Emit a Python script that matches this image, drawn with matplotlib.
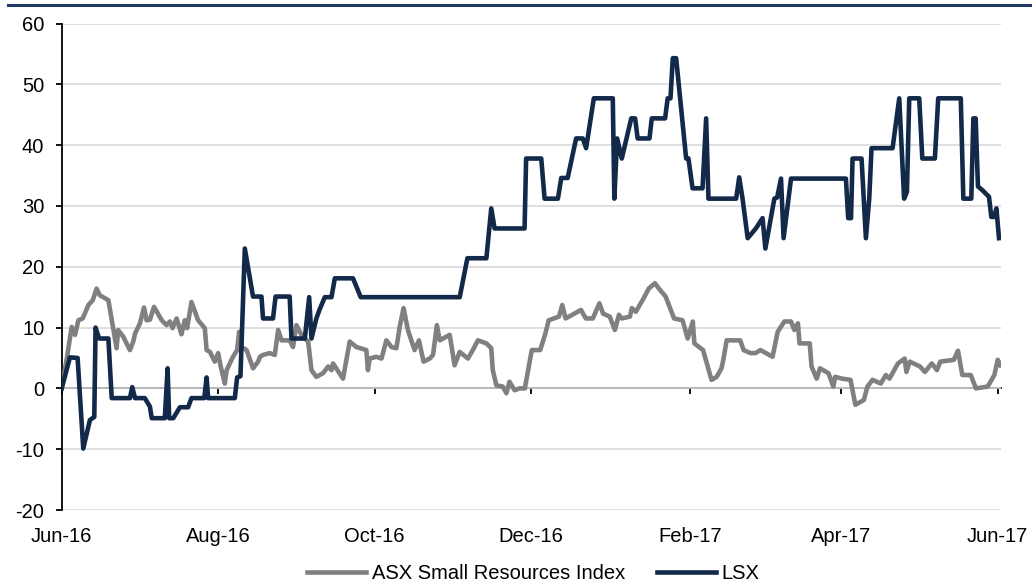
# Import required libraries
import matplotlib
matplotlib.use("Agg")
import matplotlib.pyplot as plt
import matplotlib.dates as mdates
from matplotlib.lines import Line2D
import pandas as pd

# -------------------------------
# 1. Data
# -------------------------------
# Days since 1 Jun 2016 and % performance
start = pd.Timestamp("2016-06-01")

asx_days = [0.0, 1.9, 3.9, 5.2, 6.5, 8.2, 10.4, 12.1, 13.6, 14.9, 18.2, 21.4, 22.0, 24.0,
            26.6, 27.9, 28.6, 30.5, 32.1, 33.1, 34.4, 36.0, 39.0, 40.9, 42.2, 43.2, 44.8,
            46.7, 48.0, 48.9, 50.6, 53.2, 55.8, 56.5, 57.8, 59.7, 61.0, 61.9, 63.6, 64.3,
            66.8, 68.4, 69.2, 70.1, 72.1, 74.6, 76.6, 77.3, 78.5, 81.1, 83.1, 84.4, 85.7,
            88.9, 90.2, 91.5, 93.5, 96.1, 97.4, 99.3, 101.9, 103.9, 105.2, 105.8, 109.7,
            112.3, 114.9, 118.8, 119.4, 120.1, 122.7, 124.7, 126.6, 128.6, 130.5, 131.8,
            133.3, 135.0, 137.6, 139.3, 141.1, 143.5, 144.8, 146.3, 147.4, 151.3, 153.2,
            155.2, 158.4, 160.3, 162.3, 165.6, 167.5, 168.1, 169.5, 172.0, 173.4, 174.6,
            176.6, 178.6, 180.6, 183.3, 186.6, 188.6, 189.9, 193.9, 195.2, 196.5, 202.5,
            204.4, 207.1, 209.7, 211.1, 213.7, 215.7, 217.3, 218.4, 221.6, 222.3, 223.9,
            226.9, 228.9, 231.3, 232.9, 235.5, 238.8, 242.1, 244.1, 246.1, 246.7, 250.1,
            253.4, 255.4, 257.3, 258.0, 259.3, 264.6, 265.9, 268.6, 270.5, 272.5, 277.2,
            279.2, 281.8, 284.4, 285.7, 287.1, 287.7, 291.7, 292.4, 294.4, 295.7, 299.0,
            300.9, 301.6, 304.3, 307.6, 309.5, 312.8, 314.2, 316.2, 319.4, 321.4, 322.8,
            326.1, 328.7, 329.4, 330.7, 334.7, 336.6, 339.3, 341.3, 342.6, 347.9, 349.5,
            351.2, 354.5, 356.5, 361.1, 363.7, 365.0, 366.1]
asx_vals = [0.0, 4.7, 10.1, 8.8, 11.2, 11.5, 13.7, 14.5, 16.4, 15.3, 14.5, 6.6, 9.6, 8.5,
            6.3, 7.7, 9.0, 10.7, 13.3, 11.2, 11.3, 13.4, 11.2, 10.4, 11.0, 9.9, 11.5,
            8.9, 11.2, 9.9, 14.2, 11.2, 9.9, 6.3, 6.0, 4.4, 5.8, 3.8, 0.8, 3.0,
            5.2, 6.3, 9.3, 6.8, 6.3, 3.3, 4.4, 5.2, 5.5, 5.8, 5.5, 9.6, 7.9,
            7.9, 6.8, 10.4, 8.8, 7.7, 3.0, 1.9, 2.5, 3.6, 3.0, 4.1, 1.6,
            7.7, 6.8, 6.3, 3.0, 4.9, 5.2, 4.9, 7.9, 6.8, 6.6, 10.1,
            13.2, 9.6, 6.3, 7.9, 4.4, 4.9, 5.5, 10.4, 7.9, 8.8, 3.8,
            6.0, 4.9, 6.3, 7.9, 7.4, 6.6, 3.0, 0.5, 0.3, -0.8, 1.1,
            -0.3, 0.0, 0.0, 6.3, 6.3, 9.0, 11.2, 11.8, 13.7, 11.5, 12.9,
            11.5, 11.5, 14.0, 12.3, 11.8, 9.6, 12.1, 11.5, 11.8, 13.2, 12.6,
            14.8, 16.4, 17.3, 16.4, 15.1, 11.5, 11.2, 8.2, 11.0, 7.4, 6.3,
            1.4, 1.9, 3.3, 4.7, 7.9, 7.9, 6.3, 5.8, 5.8, 6.3, 5.2,
            9.3, 11.0, 11.0, 9.6, 10.7, 7.4, 7.4, 3.6, 1.6, 3.3, 2.5,
            0.3, 1.9, 1.6, 1.4, -2.7, -1.9, 0.3, 1.4, 0.8, 2.2, 1.6,
            4.1, 4.9, 2.7, 4.4, 3.6, 2.7, 4.1, 3.0, 4.4, 4.7, 6.2,
            2.2, 2.2, 0.0, 0.3, 2.2, 4.7, 3.8]

lsx_days = [0.0, 3.2, 6.2, 8.4, 11.0, 12.7, 13.2, 14.6, 18.2, 19.5, 26.6, 27.5, 28.6, 32.4,
            34.4, 35.1, 40.2, 41.3, 41.9, 43.5, 46.1, 49.3, 50.6, 55.6, 56.5, 57.1, 67.5,
            68.4, 69.7, 71.4, 74.6, 77.9, 78.5, 82.4, 83.4, 88.9, 89.6, 94.8, 96.5, 97.4,
            99.3, 100.6, 102.6, 105.2, 106.5, 113.6, 116.6, 155.2, 158.2, 165.6, 167.5,
            168.8, 180.5, 181.1, 187.0, 188.3, 193.5, 194.8, 197.3, 200.6, 203.2, 204.5,
            207.5, 214.9, 215.5, 216.6, 218.4, 222.1, 223.6, 224.6, 229.2, 230.1, 235.3,
            236.3, 237.4, 238.3, 239.6, 243.5, 244.4, 246.0, 249.9, 251.3, 252.2, 263.0,
            264.2, 265.5, 267.5, 270.7, 273.3, 274.4, 277.9, 279.0, 280.5, 281.5, 284.4,
            305.8, 306.7, 307.8, 308.4, 311.9, 313.6, 314.9, 315.8, 324.0, 326.6, 328.5,
            329.6, 330.5, 334.4, 335.6, 340.5, 341.8, 350.6, 351.6, 354.7, 355.5, 356.4,
            357.3, 359.0, 361.6, 362.5, 363.6, 364.5, 365.5]
lsx_vals = [0.0, 5.1, 5.0, -9.9, -5.2, -4.7, 10.0, 8.2, 8.2, -1.6, -1.6, 0.2, -1.6, -1.6,
            -3.0, -4.9, -4.9, 3.3, -4.9, -4.9, -3.1, -3.1, -1.6, -1.6, 1.8, -1.6, -1.6,
            1.8, 2.0, 23.0, 15.1, 15.1, 11.5, 11.5, 15.1, 15.1, 8.2, 8.2, 15.0, 8.2,
            11.5, 13.0, 15.0, 15.0, 18.1, 18.1, 15.0, 15.0, 21.4, 21.4, 29.6,
            26.3, 26.3, 37.8, 37.8, 31.2, 31.2, 34.6, 34.6, 41.1, 41.1, 39.5,
            47.7, 47.7, 31.2, 41.1, 37.8, 44.4, 44.4, 41.1, 41.1, 44.4, 44.4,
            47.7, 47.7, 54.3, 54.3, 37.8, 37.8, 32.9, 32.9, 44.4, 31.2, 31.2,
            34.7, 31.2, 24.7, 26.3, 28.0, 23.0, 31.2, 31.4, 34.5, 24.7, 34.5,
            34.5, 28.0, 28.0, 37.8, 37.8, 24.7, 31.2, 39.5, 39.5, 47.7, 31.2,
            32.3, 47.7, 47.7, 37.8, 37.8, 47.7, 47.7, 31.2, 31.2, 44.4, 44.4,
            33.2, 32.6, 31.5, 28.2, 28.2, 29.6, 24.7]

series_names = ["ASX Small Resources Index", "LSX"]
y_ticks = [-20, -10, 0, 10, 20, 30, 40, 50, 60]

asx_dates = start + pd.to_timedelta(asx_days, unit="D")
lsx_dates = start + pd.to_timedelta(lsx_days, unit="D")

# -------------------------------
# 2. Figure setup
# -------------------------------
plt.rcParams["font.family"] = ["Liberation Sans", "DejaVu Sans"]
plt.rcParams["axes.unicode_minus"] = False
fig = plt.figure(figsize=(10.32, 5.85), dpi=100)
ax = fig.add_axes([0.0598, 0.1282, 0.9102, 0.8316])

gray = "#808080"
navy = "#13294a"

ax.plot(asx_dates, asx_vals, color=gray, lw=3.3, label=series_names[0], zorder=3)
ax.plot(lsx_dates, lsx_vals, color=navy, lw=3.3, label=series_names[1], zorder=4)

# -------------------------------
# 3. Axes styling
# -------------------------------
ax.set_ylim(-20, 60)
ax.set_xlim(start, start + pd.Timedelta(days=366.3))
ax.set_yticks(y_ticks)
ax.yaxis.grid(True, color="#d9d9d9", lw=1.2, zorder=0)
ax.set_axisbelow(True)

for side in ["top", "right", "bottom"]:
    ax.spines[side].set_visible(False)
ax.spines["left"].set_linewidth(1.3)

ax.tick_params(axis="y", direction="out", length=4.5, width=1.3, pad=8, labelsize=14.5)

locator = mdates.MonthLocator(bymonth=[2, 4, 6, 8, 10, 12])
ax.xaxis.set_major_locator(locator)
ax.xaxis.set_major_formatter(mdates.DateFormatter("%b-%y"))
ax.tick_params(axis="x", length=0, pad=12, labelsize=14.5)

# Zero line with tick marks
zero_axis = ax.secondary_xaxis(20 / 80)
zero_axis.xaxis.set_major_locator(mdates.MonthLocator(bymonth=[2, 4, 6, 8, 10, 12]))
zero_axis.xaxis.set_major_formatter(plt.NullFormatter())
zero_axis.spines["bottom"].set_linewidth(1.3)
zero_axis.tick_params(axis="x", direction="out", length=4.5, width=1.3)

# Header rule across top
fig.add_artist(Line2D([0.008, 1.0], [1 - 5 / 585, 1 - 5 / 585], color="#1f3864", lw=2.2))

# -------------------------------
# 4. Legend
# -------------------------------
fig.legend(loc="lower center", bbox_to_anchor=(0.517, -0.004), ncol=2, frameon=False,
           fontsize=14.5, handlelength=2.9, handletextpad=0.3, columnspacing=1.6,
           borderaxespad=0.0, borderpad=0.2)

plt.savefig("out.png", dpi=100)
